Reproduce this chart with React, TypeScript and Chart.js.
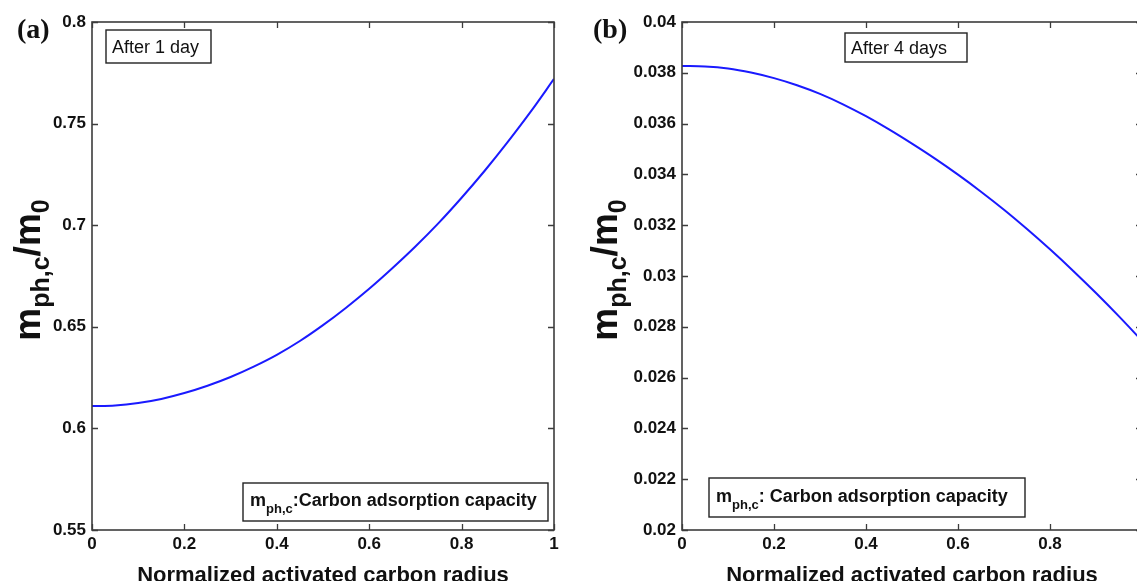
import React, { useEffect, useRef } from "react";
import { Chart, registerables } from "chart.js";

Chart.register(...registerables);

// ---------------- data ----------------
const RADIUS = [0, 0.05, 0.1, 0.15, 0.2, 0.25, 0.3, 0.35, 0.4, 0.45, 0.5, 0.55, 0.6, 0.65, 0.7, 0.75, 0.8, 0.85, 0.9, 0.95, 1];
const CAPACITY_DAY1 = [0.611, 0.6113, 0.6125, 0.6145, 0.6174, 0.621, 0.6253, 0.6304, 0.6362, 0.643, 0.6508, 0.6594, 0.6687, 0.6788, 0.6895, 0.701, 0.7135, 0.7268, 0.741, 0.756, 0.772];
const CAPACITY_DAY4 = [0.03827, 0.03825, 0.03817, 0.03801, 0.03779, 0.03751, 0.03717, 0.03676, 0.03629, 0.03577, 0.03521, 0.03462, 0.03399, 0.03332, 0.03261, 0.03185, 0.03105, 0.03021, 0.02933, 0.02841, 0.02745];

const X_TICKS = [0, 0.2, 0.4, 0.6, 0.8, 1];
const X_TICK_LABELS = ["0", "0.2", "0.4", "0.6", "0.8", "1"];
const Y_TICKS_A = [0.55, 0.6, 0.65, 0.7, 0.75, 0.8];
const Y_TICK_LABELS_A = ["0.55", "0.6", "0.65", "0.7", "0.75", "0.8"];
const Y_TICKS_B = [0.02, 0.022, 0.024, 0.026, 0.028, 0.03, 0.032, 0.034, 0.036, 0.038, 0.04];
const Y_TICK_LABELS_B = ["0.02", "0.022", "0.024", "0.026", "0.028", "0.03", "0.032", "0.034", "0.036", "0.038", "0.04"];

const X_TITLE = "Normalized activated carbon radius";
const NOTE_TEXT = "Carbon adsorption capacity";

// ---------------- styles ----------------
const SANS = '"Liberation Sans", Arial, sans-serif';
const SERIF = '"Liberation Serif", "Times New Roman", serif';
const AXIS_COLOR = "#3c3c3c";
const TEXT_COLOR = "#111111";
const LINE_COLOR = "#1a1aff";
const TICK_LEN = 6;
const H = 581;

type Part = { t: string; sub?: boolean };

function measureParts(ctx: CanvasRenderingContext2D, parts: Part[], main: string, sub: string) {
  let w = 0;
  for (const p of parts) {
    ctx.font = p.sub ? sub : main;
    w += ctx.measureText(p.t).width;
  }
  return w;
}

function drawParts(ctx: CanvasRenderingContext2D, parts: Part[], x: number, y: number, main: string, sub: string, subDy: number) {
  let cx = x;
  ctx.textAlign = "left";
  ctx.textBaseline = "alphabetic";
  for (const p of parts) {
    ctx.font = p.sub ? sub : main;
    ctx.fillText(p.t, cx, p.sub ? y + subDy : y);
    cx += ctx.measureText(p.t).width;
  }
}

type PanelCfg = {
  letter: string;
  letterX: number;
  values: number[];
  yTicks: number[];
  yLabels: string[];
  yAxisWidth: number;
  rightPad: number;
  titleBaselineX: number;
  dayText: string;
  dayBox: [number, number, number, number];
  noteBox: [number, number, number, number];
  noteSep: string;
};

function makeDecor(cfg: PanelCfg) {
  return {
    id: "decor",
    afterDraw(chart: any) {
      const { ctx, chartArea: a, scales } = chart;
      const xs = scales.x;
      const ys = scales.y;
      ctx.save();
      // frame
      ctx.strokeStyle = AXIS_COLOR;
      ctx.lineWidth = 1.6;
      ctx.strokeRect(a.left, a.top, a.right - a.left, a.bottom - a.top);
      // inward ticks on all four sides
      ctx.lineWidth = 1.3;
      ctx.beginPath();
      for (const v of X_TICKS) {
        const px = Math.round(xs.getPixelForValue(v)) + 0.5;
        ctx.moveTo(px, a.bottom);
        ctx.lineTo(px, a.bottom - TICK_LEN);
        ctx.moveTo(px, a.top);
        ctx.lineTo(px, a.top + TICK_LEN);
      }
      for (const v of cfg.yTicks) {
        const py = Math.round(ys.getPixelForValue(v)) + 0.5;
        ctx.moveTo(a.left, py);
        ctx.lineTo(a.left + TICK_LEN, py);
        ctx.moveTo(a.right, py);
        ctx.lineTo(a.right - TICK_LEN, py);
      }
      ctx.stroke();

      ctx.fillStyle = TEXT_COLOR;
      // panel letter
      ctx.font = `bold 28px ${SERIF}`;
      ctx.textAlign = "left";
      ctx.textBaseline = "alphabetic";
      ctx.fillText(cfg.letter, cfg.letterX, 38);

      // x title
      ctx.font = `bold 22px ${SANS}`;
      ctx.textAlign = "center";
      ctx.fillText(X_TITLE, (a.left + a.right) / 2, 582);

      // y title (rotated, with subscripts)
      const tMain = `bold 37px ${SANS}`;
      const tSub = `bold 25px ${SANS}`;
      const tParts: Part[] = [{ t: "m" }, { t: "ph,c", sub: true }, { t: "/m" }, { t: "0", sub: true }];
      const tw = measureParts(ctx, tParts, tMain, tSub);
      ctx.save();
      ctx.translate(cfg.titleBaselineX, (a.top + a.bottom) / 2 - 6);
      ctx.rotate(-Math.PI / 2);
      drawParts(ctx, tParts, -tw / 2, 0, tMain, tSub, 9);
      ctx.restore();

      // "After n day(s)" box
      const [dl, dt, dw, dh] = cfg.dayBox;
      ctx.strokeStyle = "#222";
      ctx.lineWidth = 1.4;
      ctx.fillStyle = "#fff";
      ctx.fillRect(a.left + dl, a.top + dt, dw, dh);
      ctx.strokeRect(a.left + dl, a.top + dt, dw, dh);
      ctx.fillStyle = TEXT_COLOR;
      ctx.font = `18px ${SANS}`;
      ctx.textAlign = "left";
      ctx.fillText(cfg.dayText, a.left + dl + 6, a.top + dt + dh / 2 + 6.5);

      // note box
      const [nl, nt, nw, nh] = cfg.noteBox;
      ctx.fillStyle = "#fff";
      ctx.fillRect(a.left + nl, a.top + nt, nw, nh);
      ctx.strokeRect(a.left + nl, a.top + nt, nw, nh);
      ctx.fillStyle = TEXT_COLOR;
      const nMain = `bold 18px ${SANS}`;
      const nSub = `bold 13px ${SANS}`;
      const nParts: Part[] = [{ t: "m" }, { t: "ph,c", sub: true }, { t: cfg.noteSep + NOTE_TEXT }];
      drawParts(ctx, nParts, a.left + nl + 7, a.top + nt + nh / 2 + 4, nMain, nSub, 7);

      ctx.restore();
    },
  };
}

function Panel({ cfg, left, width }: { cfg: PanelCfg; left: number; width: number }) {
  const ref = useRef<HTMLCanvasElement>(null);
  useEffect(() => {
    const tickFont = { family: SANS, size: 17, weight: "bold" as const };
    const chart = new Chart(ref.current as HTMLCanvasElement, {
      type: "line",
      data: {
        datasets: [
          {
            data: RADIUS.map((r, i) => ({ x: r, y: cfg.values[i] })),
            borderColor: LINE_COLOR,
            borderWidth: 2,
            pointRadius: 0,
            fill: false,
            cubicInterpolationMode: "monotone",
          },
        ],
      },
      options: {
        responsive: false,
        animation: false,
        devicePixelRatio: 1,
        layout: { padding: { top: 22, right: cfg.rightPad, left: 0, bottom: 0 } },
        plugins: { legend: { display: false }, tooltip: { enabled: false } },
        scales: {
          x: {
            type: "linear",
            min: 0,
            max: 1,
            grid: { display: false, drawTicks: false },
            border: { display: false },
            afterBuildTicks: (s: any) => {
              s.ticks = X_TICKS.map((v) => ({ value: v }));
            },
            afterFit: (s: any) => {
              s.height = H - 530;
            },
            ticks: {
              autoSkip: false,
              maxRotation: 0,
              padding: 4,
              color: TEXT_COLOR,
              font: tickFont,
              callback: (_v: any, i: number) => X_TICK_LABELS[i],
            },
          },
          y: {
            type: "linear",
            min: cfg.yTicks[0],
            max: cfg.yTicks[cfg.yTicks.length - 1],
            grid: { display: false, drawTicks: false },
            border: { display: false },
            afterBuildTicks: (s: any) => {
              s.ticks = cfg.yTicks.map((v) => ({ value: v }));
            },
            afterFit: (s: any) => {
              s.width = cfg.yAxisWidth;
            },
            ticks: {
              autoSkip: false,
              padding: 6,
              color: TEXT_COLOR,
              font: tickFont,
              callback: (_v: any, i: number) => cfg.yLabels[i],
            },
          },
        },
      },
      plugins: [makeDecor(cfg)],
    } as any);
    return () => chart.destroy();
  }, []);
  return (
    <div style={{ position: "absolute", left, top: 0, width, height: H }}>
      <canvas ref={ref} width={width} height={H} style={{ display: "block" }} />
    </div>
  );
}

// panel (a) canvas spans x = 0..570 of the page
const PANEL_A: PanelCfg = {
  letter: "(a)",
  letterX: 17,
  values: CAPACITY_DAY1,
  yTicks: Y_TICKS_A,
  yLabels: Y_TICK_LABELS_A,
  yAxisWidth: 92,
  rightPad: 16,
  titleBaselineX: 40,
  dayText: "After 1 day",
  dayBox: [14, 8, 105, 33],
  noteBox: [151, 461, 305, 38],
  noteSep: ":",
};

// panel (b) canvas starts at x = 570 of the page (its right part is cropped)
const PANEL_B: PanelCfg = {
  letter: "(b)",
  letterX: 23,
  values: CAPACITY_DAY4,
  yTicks: Y_TICKS_B,
  yLabels: Y_TICK_LABELS_B,
  yAxisWidth: 112,
  rightPad: 18,
  titleBaselineX: 47,
  dayText: "After 4 days",
  dayBox: [163, 11, 122, 29],
  noteBox: [27, 456, 316, 39],
  noteSep: ": ",
};

export default function App() {
  return (
    <div
      style={{
        position: "fixed",
        left: 0,
        top: 0,
        width: 1137,
        height: H,
        overflow: "hidden",
        background: "#fff",
      }}
    >
      <Panel cfg={PANEL_A} left={0} width={570} />
      <Panel cfg={PANEL_B} left={570} width={590} />
    </div>
  );
}
